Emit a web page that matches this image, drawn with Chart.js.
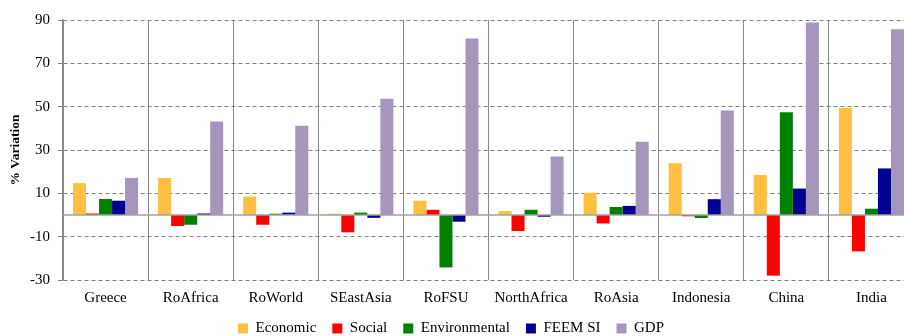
<!DOCTYPE html>
<html>
<head>
<meta charset="utf-8">
<script src="https://cdn.jsdelivr.net/npm/chart.js@4/dist/chart.umd.min.js"></script>
<style>
  html, body { margin: 0; padding: 0; background: #ffffff; overflow: hidden; }
  #wrap { width: 914px; height: 336px; }
</style>
</head>
<body>
<div id="wrap"><canvas id="chart" width="914" height="336"></canvas></div>
<script>
// Regions and the five indicators (% variation)
const categories = ['Greece', 'RoAfrica', 'RoWorld', 'SEastAsia', 'RoFSU', 'NorthAfrica', 'RoAsia', 'Indonesia', 'China', 'India'];
const economic      = [14.7, 17.1, 8.5, 0.6, 6.6, 1.8, 10.3, 23.9, 18.5, 49.4];
const social        = [0.7, -5.1, -4.5, -8.0, 2.4, -7.4, -3.9, -0.6, -28.0, -16.8];
const environmental = [7.4, -4.5, 0.6, 1.1, -24.2, 2.4, 3.7, -1.4, 47.4, 2.9];
const feemSI        = [6.6, 0.7, 1.1, -1.3, -3.1, -0.8, 4.2, 7.3, 12.2, 21.5];
const gdp           = [17.1, 43.1, 41.2, 53.6, 81.5, 27.0, 33.8, 48.2, 88.8, 85.7];
const yTicks = [-30, -10, 10, 30, 50, 70, 90];

const FONT = "'Liberation Serif', 'Times New Roman', serif";

// Solid horizontal line at zero, drawn over the bar bases
const zeroLine = {
  id: 'zeroLine',
  afterDatasetsDraw(chart) {
    const { ctx, chartArea } = chart;
    const y = chart.scales.y.getPixelForValue(0);
    ctx.save();
    ctx.strokeStyle = '#a0a0a0';
    ctx.lineWidth = 1.3;
    ctx.beginPath();
    ctx.moveTo(chartArea.left, y);
    ctx.lineTo(chartArea.right, y);
    ctx.stroke();
    ctx.restore();
  }
};

// Move the legend box: a little left, and grow it upward so the row fits
const legendShift = {
  id: 'legendShift',
  afterLayout(chart) {
    const lg = chart.legend;
    if (lg) {
      lg.left -= 6;
      lg.right -= 6;
      lg.top -= 11;
    }
  }
};

const ds = (label, data, color) => ({
  label, data,
  backgroundColor: color,
  borderWidth: 0,
  categoryPercentage: 0.765,
  barPercentage: 1.0
});

new Chart(document.getElementById('chart'), {
  type: 'bar',
  data: {
    labels: categories,
    datasets: [
      ds('Economic', economic, '#ffbf40'),
      ds('Social', social, '#ff0000'),
      ds('Environmental', environmental, '#008000'),
      ds('FEEM SI', feemSI, '#000090'),
      ds('GDP', gdp, '#a696bb')
    ]
  },
  options: {
    responsive: false,
    devicePixelRatio: 1,
    animation: false,
    layout: { padding: { top: 20, left: 0, right: 0, bottom: 0 } },
    plugins: {
      tooltip: { enabled: false },
      legend: {
        position: 'bottom',
        maxHeight: 20,
        labels: {
          boxWidth: 10,
          boxHeight: 10,
          padding: 16,
          color: '#000000',
          font: { family: FONT, size: 15 }
        }
      }
    },
    scales: {
      x: {
        grid: {
          offset: true,
          color: '#888888',
          lineWidth: 1,
          drawTicks: false
        },
        border: { display: false },
        ticks: {
          color: '#000000',
          padding: 9,
          font: { family: FONT, size: 15 },
          maxRotation: 0,
          autoSkip: false
        }
      },
      y: {
        min: -30,
        max: 90,
        afterBuildTicks(scale) {
          scale.ticks = yTicks.map(v => ({ value: v }));
        },
        afterFit(scale) {
          scale.width = 63;
        },
        grid: {
          color: '#808080',
          lineWidth: 1,
          tickLength: 5,
          tickColor: '#808080'
        },
        border: { display: true, color: '#888888', width: 1.5, dash: [4, 3] },
        ticks: {
          color: '#000000',
          padding: 8,
          font: { family: FONT, size: 15 }
        },
        title: {
          display: true,
          text: '% Variation',
          color: '#000000',
          padding: { top: 7, bottom: 4 },
          font: { family: FONT, size: 13.5, weight: 'bold' }
        }
      }
    }
  },
  plugins: [zeroLine, legendShift]
});
</script>
</body>
</html>
